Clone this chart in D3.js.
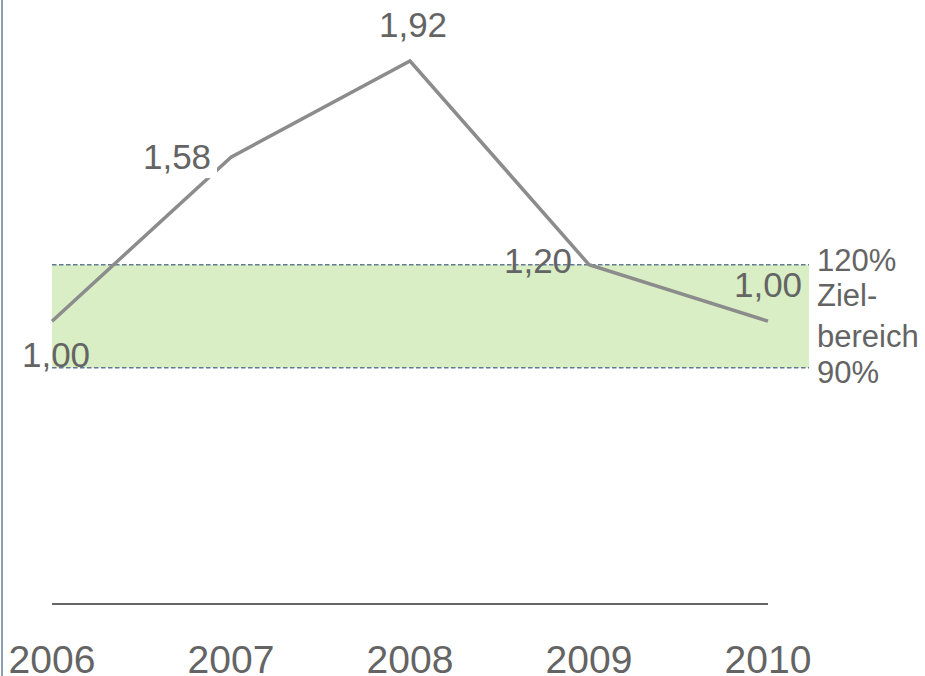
<!DOCTYPE html>
<html><head><meta charset="utf-8">
<script src="https://cdn.jsdelivr.net/npm/d3@7/dist/d3.min.js"></script>
<style>html,body{margin:0;padding:0;background:#fff;overflow:hidden}</style>
</head><body>
<svg id="c" width="925" height="676"></svg>
<script>
const years = ["2006","2007","2008","2009","2010"];
const values = [1.00, 1.58, 1.92, 1.20, 1.00];
const valueLabels = ["1,00","1,58","1,92","1,20","1,00"];
const bandBounds = [0.835, 1.2];
const bandLabels = ["120%","Ziel-","bereich","90%"];

const svg = d3.select("#c");
const font = "'Liberation Sans', Arial, sans-serif";
const textCol = "#646464";

const x = d3.scalePoint().domain(years).range([52, 768]);
const y = d3.scaleLinear().domain([0, 1.92]).range([604, 61]);

// left border
svg.append("line").attr("x1",2).attr("x2",2).attr("y1",0).attr("y2",676)
  .attr("stroke","#8e9db1").attr("stroke-width",2);

// target band
const bandX1 = x(years[0]), bandX2 = x(years[years.length-1]) + 41;
svg.append("rect").attr("x",bandX1).attr("y",y(bandBounds[1]))
  .attr("width",bandX2-bandX1).attr("height",y(bandBounds[0])-y(bandBounds[1]))
  .attr("fill","#d9eec5");
bandBounds.forEach(b=>{
  svg.append("line").attr("x1",bandX1).attr("x2",bandX2).attr("y1",y(b)).attr("y2",y(b))
    .attr("stroke","#647894").attr("stroke-width",1.5).attr("stroke-dasharray","4.5,2.5");
});

// baseline axis
svg.append("line").attr("x1",x(years[0])).attr("x2",x(years[years.length-1]))
  .attr("y1",y(0)).attr("y2",y(0)).attr("stroke","#666").attr("stroke-width",2);

// x labels
svg.selectAll("text.xl").data(years).enter().append("text")
  .attr("x",d=>x(d)).attr("y",673).attr("text-anchor","middle")
  .attr("font-family",font).attr("font-size",39).attr("fill",textCol).text(d=>d);

// line
const pts = years.map((d,i)=>[x(d), y(values[i])]);
svg.append("path").attr("d", d3.line()(pts)).attr("fill","none")
  .attr("stroke","#8c8c8c").attr("stroke-width",3.5).attr("stroke-linejoin","miter");

// data labels
const offs = [[4,46],[-54,12],[3,-24],[-51,8],[0,-24]];
const g = svg.append("g");
values.forEach((v,i)=>{
  const lx = pts[i][0]+offs[i][0], ly = pts[i][1]+offs[i][1];
  if (i===1) {
    g.append("rect").attr("x",lx-38).attr("y",ly-36).attr("width",78).attr("height",45).attr("fill","#fff");
  }
  g.append("text").attr("x",lx).attr("y",ly).attr("text-anchor","middle")
    .attr("font-family",font).attr("font-size",35).attr("fill",textCol).text(valueLabels[i]);
});

// band labels
const bl = [271, 306, 347, 383];
bandLabels.forEach((t,i)=>{
  svg.append("text").attr("x",817).attr("y",bl[i]).attr("font-family",font)
    .attr("font-size",31).attr("fill",textCol).text(t);
});
</script>
</body></html>
